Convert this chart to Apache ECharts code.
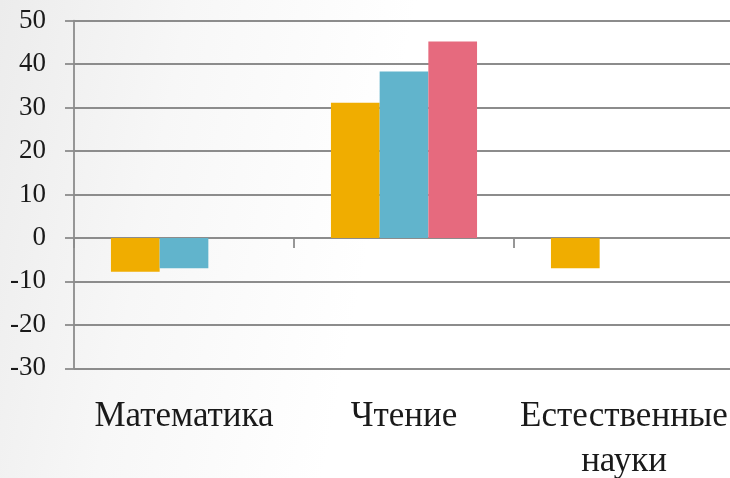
<!DOCTYPE html>
<html>
<head>
<meta charset="utf-8">
<script src="https://cdn.jsdelivr.net/npm/echarts@6/dist/echarts.min.js"></script>
<style>html,body{margin:0;padding:0;}#c{width:730px;height:478px;}</style>
</head>
<body>
<div id="c"></div>
<script>
const categories = ['Математика', 'Чтение', 'Естественные\nнауки'];
const seriesOrange = [-7.8, 31.1, -7.0];
const seriesBlue = [-7.0, 38.3, null];
const seriesPink = [null, 45.2, null];
const yTicks = { min: -30, max: 50, interval: 10 };

const font = '"Liberation Serif", "DejaVu Serif", serif';
const gridColor = '#8c8c8c';
const chart = echarts.init(document.getElementById('c'));
chart.setOption({
  animation: false,
  backgroundColor: {
    type: 'linear', x: 0, y: 0, x2: 1, y2: 0.3,
    colorStops: [
      { offset: 0, color: '#ececec' },
      { offset: 0.25, color: '#f7f7f7' },
      { offset: 0.55, color: '#ffffff' },
      { offset: 1, color: '#ffffff' }
    ]
  },
  grid: { left: 74, top: 20.7, width: 660, height: 347.6, containLabel: false, outerBoundsMode: 'none' },
  xAxis: [
    {
      type: 'category', data: categories, position: 'bottom',
      axisLine: { show: false, onZero: false },
      axisTick: { show: false },
      axisLabel: { fontFamily: font, fontSize: 35, color: '#1a1a1a', margin: 26, lineHeight: 45, interval: 0 },
      splitLine: { show: false }
    },
    {
      type: 'category', data: categories, position: 'bottom',
      axisLine: { show: true, onZero: true, lineStyle: { color: gridColor, width: 1.8 } },
      axisTick: { show: true, length: 10, lineStyle: { color: gridColor, width: 1.8 } },
      axisLabel: { show: false },
      splitLine: { show: false }
    }
  ],
  yAxis: {
    type: 'value', min: yTicks.min, max: yTicks.max, interval: yTicks.interval,
    axisLine: { show: true, lineStyle: { color: gridColor, width: 1.8 } },
    axisTick: { show: true, length: 9, lineStyle: { color: gridColor, width: 1.8 } },
    axisLabel: { fontFamily: font, fontSize: 27, color: '#1a1a1a', margin: 28 },
    splitLine: { show: true, lineStyle: { color: gridColor, width: 1.8 } }
  },
  series: [
    { type: 'bar', data: seriesOrange, barWidth: 48.7, barGap: '0%', itemStyle: { color: '#F0AD00' } },
    { type: 'bar', data: seriesBlue, barWidth: 48.7, barGap: '0%', itemStyle: { color: '#61B4CC' } },
    { type: 'bar', data: seriesPink, barWidth: 48.7, barGap: '0%', itemStyle: { color: '#E66A7E' } }
  ]
});
</script>
</body>
</html>
